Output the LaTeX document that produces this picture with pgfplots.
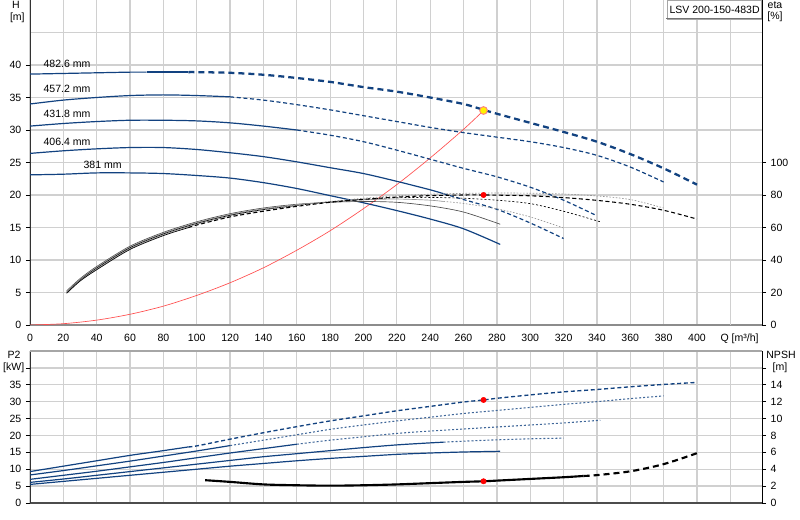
\documentclass[border=0pt]{standalone}
\usepackage{fontspec}
\setmainfont{Liberation Sans}
\usepackage{pgfplots}
\pgfplotsset{compat=1.18}

\definecolor{curve}{RGB}{18,66,128}
\definecolor{gridc}{RGB}{208,208,208}
\definecolor{etagray}{RGB}{150,150,150}
\definecolor{syscurve}{RGB}{255,80,80}

\pgfplotsset{
  pumpbase/.style={
    scale only axis,
    width=549pt,
    xmin=0, xmax=439,
    no markers,
    /pgf/number format/assume math mode=true,
    tick label style={font=\fontsize{7.9}{8}\selectfont},
    axis line style={-},
    major tick length=3pt,
    tick align=outside,
    every tick/.style={black, line width=0.5pt},
  },
  hsolid/.style={curve, line width=0.9pt, smooth},
  hdash/.style={curve, line width=0.9pt, smooth, dash pattern=on 3pt off 2pt},
  hthick/.style={curve, line width=1.7pt, smooth, dash pattern=on 4.5pt off 3pt},
  pdot/.style={curve!80, line width=0.8pt, smooth, dash pattern=on 1.5pt off 1.5pt},
  eblack/.style={black, line width=0.5pt, smooth},
  egray/.style={etagray, line width=0.5pt, smooth},
}

\begin{document}
\begin{tikzpicture}
\useasboundingbox (0,0) rectangle (600pt,390pt);

% ---------------- top: head curves ----------------
\begin{axis}[pumpbase,
  at={(22.5pt,146.25pt)}, anchor=south west, height=243.75pt,
  ymin=0, ymax=50,
  xtick={0,20,...,400},
  extra x ticks={420}, extra x tick labels={Q [m³/h]},
  extra x tick style={grid=major, tick label style={xshift=7pt}},
  ytick={0,5,...,40}, minor ytick={45},
  grid=both,
  major grid style={gridc, line width=0.95pt},
  minor grid style={gridc, line width=0.95pt},
  minor tick length=0pt,
  axis x line*=bottom, axis y line*=left,
  x axis line style={black!45, line width=1.3pt},
  y axis line style={black!80},
  xtick style={draw=none},
]
% system curve
\addplot[syscurve, line width=0.5pt, smooth] coordinates {
 (0,0) (20,0.2) (40,0.75) (60,1.65) (80,2.9) (100,4.55) (120,6.5) (140,8.8)
 (160,11.5) (180,14.5) (200,17.9) (220,21.6) (240,25.7) (260,30.1) (272,33.0)};

% 381 mm
\addplot[hsolid] coordinates {
 (0,23.1) (20,23.2) (40,23.4) (60,23.4) (80,23.3) (100,23.0) (120,22.6) (140,21.9)
 (160,21.0) (180,19.9) (200,18.8) (220,17.6) (240,16.3) (260,14.8) (282,12.4)};
% 406.4 mm
\addplot[hsolid] coordinates {
 (0,26.4) (20,26.8) (40,27.1) (60,27.3) (80,27.3) (100,27.0) (120,26.5) (140,25.9)
 (160,25.1) (180,24.2) (200,23.3) (220,22.1) (240,20.8) (248,20.2)};
\addplot[hdash] coordinates {
 (248,20.2) (260,19.3) (280,17.8) (300,15.7) (320,13.3)};
% 431.8 mm
\addplot[hsolid] coordinates {
 (0,30.6) (20,31.0) (40,31.3) (60,31.5) (80,31.5) (100,31.4) (120,31.1) (140,30.6) (160,30.0)};
\addplot[hdash] coordinates {
 (160,30.0) (180,29.2) (200,28.2) (220,26.9) (240,25.5) (260,24.1) (280,22.8)
 (300,21.2) (320,19.2) (340,16.8)};
% 457.2 mm
\addplot[hsolid] coordinates {
 (0,34.0) (20,34.6) (40,35.0) (60,35.3) (80,35.4) (100,35.3) (120,35.1)};
\addplot[hdash] coordinates {
 (120,35.1) (140,34.6) (160,33.9) (180,33.1) (200,32.2) (220,31.3) (240,30.4)
 (260,29.6) (280,28.9) (300,28.2) (320,27.3) (340,26.1) (360,24.3) (380,22.0)};
% 482.6 mm
\addplot[hsolid] coordinates {
 (0,38.6) (20,38.7) (40,38.8) (60,38.9) (70,38.9)};
\addplot[curve, line width=1.7pt] coordinates {(70,38.9) (95,38.9)};
\addplot[hthick] coordinates {
 (95,38.9) (100,38.9) (120,38.8) (140,38.5) (160,38.0) (180,37.4) (200,36.6)
 (220,35.9) (240,35.0) (260,34.0) (272,33.1) (280,32.5) (300,31.1) (320,29.7)
 (340,28.2) (360,26.3) (380,24.1) (400,21.6)};

% duty point
\addplot[only marks, mark=*, mark size=2.9pt, mark options={fill=yellow, draw=red!50, line width=0.7pt}]
 coordinates {(272,33.0)};

\node[anchor=west, inner sep=0pt, font=\fontsize{7.9}{8}\selectfont] at (axis cs:8,40.1) {482.6 mm};
\node[anchor=west, inner sep=0pt, font=\fontsize{7.9}{8}\selectfont] at (axis cs:8,36.3) {457.2 mm};
\node[anchor=west, inner sep=0pt, font=\fontsize{7.9}{8}\selectfont] at (axis cs:8,32.5) {431.8 mm};
\node[anchor=west, inner sep=0pt, font=\fontsize{7.9}{8}\selectfont] at (axis cs:8,28.2) {406.4 mm};
\node[anchor=west, inner sep=0pt, font=\fontsize{7.9}{8}\selectfont] at (axis cs:32,24.7) {381 mm};

\node[anchor=north east, draw=black!35, fill=white, inner sep=1.5pt,
      minimum height=14pt, font=\fontsize{7.9}{8}\selectfont]
  at (rel axis cs:1,1) {LSV 200-150-483D};
\draw[black!55, line width=0.7pt] ([xshift=-72pt]rel axis cs:1,1) ++(0,-14.2pt) -- ++(72pt,0);
\end{axis}

% ---------------- top: efficiency ----------------
\begin{axis}[pumpbase,
  at={(22.5pt,146.25pt)}, anchor=south west, height=243.75pt,
  ymin=0, ymax=200,
  axis x line=none, axis y line*=right,
  y axis line style={black, line width=0.6pt},
  ytick={0,20,...,100},
]
% 381
\addplot[black!70, line width=0.5pt, smooth] coordinates {
 (22,21) (30,28.5) (40,36) (60,48.5) (80,57) (100,63.5) (120,68.5) (140,72)
 (160,74.3) (180,75.5) (200,76) (220,75.5) (240,73.3) (260,69.5) (282,62)};
% 406.4
\addplot[egray] coordinates {
 (22,20.5) (30,28) (40,35.5) (60,48) (80,56.5) (100,63) (120,68) (140,71.5)
 (160,74) (180,75.8) (200,77) (220,77.5) (240,76.8) (248,76)};
\addplot[egray, dash pattern=on 1.2pt off 1.2pt] coordinates {
 (248,76) (260,74.8) (280,71.5) (300,66.5) (320,59.7)};
% 431.8
\addplot[eblack] coordinates {
 (22,20) (30,27.5) (40,35) (60,47.5) (80,56) (100,62.5) (120,67.5) (140,71) (160,73.5)};
\addplot[eblack, dash pattern=on 1.5pt off 1.5pt] coordinates {
 (160,73.5) (180,75.8) (200,77.4) (220,78.3) (240,78.5) (260,78) (280,76.8)
 (300,74.7) (320,70) (342,63.5)};
% 457.2
\addplot[egray] coordinates {
 (22,20) (30,27.3) (40,34.5) (60,47) (80,55.5) (100,62) (120,67)};
\addplot[egray, dash pattern=on 1.2pt off 1.2pt] coordinates {
 (120,67) (140,70.7) (160,73.6) (180,76) (200,78) (220,79.5) (240,80.5) (260,81)
 (280,81.2) (300,81.1) (320,80.6) (340,79.4) (360,77.2) (380,72)};
% 482.6
\addplot[eblack] coordinates {
 (22,19.5) (30,27) (40,34) (60,46.5) (80,55) (95,59.9)};
\addplot[black, line width=0.8pt, smooth, dash pattern=on 3pt off 2pt] coordinates {
 (95,59.9) (100,61.5) (120,66.5) (140,70) (160,73) (180,75.5) (200,77.3) (220,78.7)
 (240,79.6) (260,80) (272,80) (280,79.9) (300,79.5) (320,78.4) (340,76.7)
 (360,74.3) (380,70.6) (400,65.2)};

\addplot[only marks, mark=*, mark size=2pt, mark options={fill=red, draw=red}]
 coordinates {(272,80)};
\end{axis}

% ---------------- bottom: power ----------------
\begin{axis}[pumpbase,
  at={(22.5pt,12.75pt)}, anchor=south west, height=114pt,
  ymin=0, ymax=45,
  xtick={0,20,...,420}, xticklabels={},
  ytick={0,5,...,40}, yticklabels={0,5,10,15,20,25,30,35,},
  grid=major,
  major grid style={gridc, line width=0.95pt},
  axis x line*=bottom, axis y line*=left,
  x axis line style={black!70, line width=0.9pt},
  y axis line style={black!80},
  xtick style={draw=none},
]
% 381
\addplot[hsolid] coordinates {
 (0,5.5) (20,6.4) (40,7.3) (60,8.2) (80,9.1) (100,10.0) (120,10.9) (140,11.7)
 (160,12.5) (180,13.2) (200,13.8) (220,14.4) (240,14.8) (260,15.1) (282,15.3)};
% 406.4
\addplot[hsolid] coordinates {
 (0,6.1) (20,7.1) (40,8.2) (60,9.3) (80,10.4) (100,11.5) (120,12.6) (140,13.7)
 (160,14.6) (180,15.5) (200,16.4) (220,17.2) (240,17.8) (248,18.0)};
\addplot[pdot] coordinates {
 (248,18.0) (260,18.3) (280,18.7) (300,19.0) (320,19.2)};
% 431.8
\addplot[hsolid] coordinates {
 (0,7.0) (20,8.2) (40,9.4) (60,10.7) (80,12.0) (100,13.4) (120,14.8) (140,16.1) (160,17.4)};
\addplot[pdot] coordinates {
 (160,17.4) (180,18.6) (200,19.6) (220,20.6) (240,21.3) (260,21.9) (280,22.5)
 (300,23.1) (320,23.7) (342,24.5)};
% 457.2
\addplot[hsolid] coordinates {
 (0,8.3) (20,9.6) (40,11.0) (60,12.4) (80,13.9) (100,15.4) (120,17.0)};
\addplot[pdot] coordinates {
 (120,17.0) (140,18.6) (160,20.2) (180,21.8) (200,23.1) (220,24.3) (240,25.4)
 (260,26.5) (280,27.4) (300,28.3) (320,29.2) (340,30.0) (360,30.9) (380,31.7)};
% 482.6
\addplot[hsolid] coordinates {
 (0,9.3) (20,10.9) (40,12.5) (60,14.1) (80,15.5) (95,16.6)};
\addplot[hdash, line width=1pt] coordinates {
 (95,16.6) (100,16.9) (120,18.9) (140,20.8) (160,22.6) (180,24.3) (200,25.8)
 (220,27.3) (240,28.6) (260,29.9) (272,30.5) (280,31.0) (300,32.0) (320,32.9)
 (340,33.6) (360,34.4) (380,35.1) (400,35.7)};

\addplot[only marks, mark=*, mark size=2pt, mark options={fill=red, draw=red}]
 coordinates {(272,30.5)};

\draw[black!35, line width=0.8pt] (rel axis cs:0,1) -- (rel axis cs:1,1);
\end{axis}

% ---------------- bottom: NPSH ----------------
\begin{axis}[pumpbase,
  at={(22.5pt,12.75pt)}, anchor=south west, height=114pt,
  ymin=0, ymax=18,
  axis x line=none, axis y line*=right,
  y axis line style={black, line width=0.6pt},
  ytick={0,2,...,16}, yticklabels={0,2,4,6,8,10,12,14,},
]
\addplot[black, line width=1.6pt, smooth] coordinates {
 (105,2.7) (120,2.5) (140,2.2) (160,2.1) (180,2.05) (200,2.1) (220,2.2) (240,2.35)
 (260,2.5) (272,2.57) (280,2.65) (300,2.85) (320,3.05) (332,3.2)};
\addplot[black, line width=1.6pt, smooth, dash pattern=on 4.5pt off 3pt] coordinates {
 (332,3.2) (340,3.3) (360,3.75) (380,4.6) (400,5.9)};
\addplot[only marks, mark=*, mark size=2pt, mark options={fill=red, draw=red}]
 coordinates {(272,2.57)};
\end{axis}

% axis titles
\begin{scope}[every node/.style={font=\fontsize{7.9}{8}\selectfont, inner sep=0pt}]
\node at (12pt,386.25pt) {H};
\node at (13pt,376.5pt) {[m]};
\node at (581.25pt,386.25pt) {eta};
\node at (581.25pt,377.25pt) {[\%]};
\node at (10.5pt,123.75pt) {P2};
\node at (10.3pt,114pt) {[kW]};
\node at (585.75pt,123.75pt) {NPSH};
\node at (585pt,114pt) {[m]};
\end{scope}
\end{tikzpicture}
\end{document}
